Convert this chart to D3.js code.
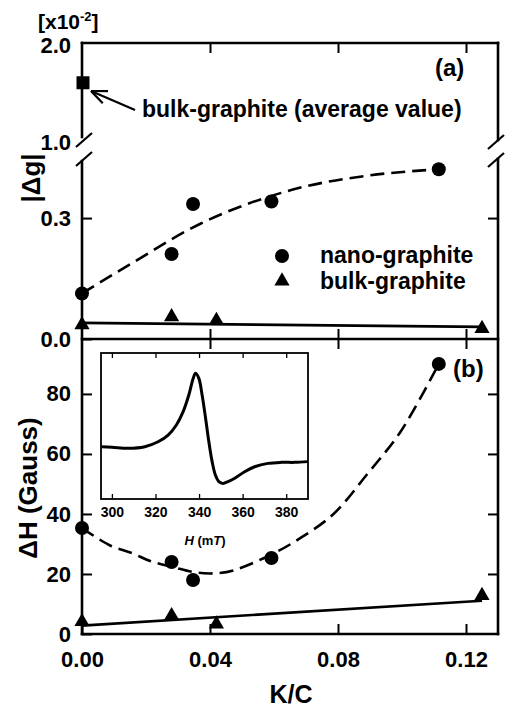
<!DOCTYPE html>
<html>
<head>
<meta charset="utf-8">
<script src="https://cdn.jsdelivr.net/npm/d3@7"></script>
<style>
  html, body { margin: 0; padding: 0; background: #fff; }
  svg { display: block; }
  text { font-family: "Liberation Sans", Arial, Helvetica, sans-serif; font-weight: bold; fill: #000; }
</style>
</head>
<body>
<svg id="chart" width="508" height="710"></svg>
<script>
// ---------- data ----------
// panel (a): |Δg| (lower segment, x10^-2 units)
const nanoG_kc   = [0.0, 0.028, 0.0347, 0.0592, 0.1115];
const nanoG_val  = [0.113, 0.211, 0.335, 0.341, 0.421];
const bulkG_kc   = [0.0, 0.028, 0.042, 0.125];
const bulkG_val  = [0.035, 0.055, 0.046, 0.026];
const bulkAvg_kc = [0.0];
const bulkAvg_val = [1.59];           // upper segment
const fitG_kc    = [0.0, 0.016, 0.037, 0.058, 0.068, 0.089, 0.1115];
const fitG_val   = [0.113, 0.19, 0.286, 0.352, 0.375, 0.405, 0.421];
const lineG_kc   = [0.0, 0.125];
const lineG_val  = [0.040, 0.030];

// panel (b): ΔH (Gauss)
const nanoH_kc   = [0.0, 0.028, 0.0347, 0.0592, 0.1115];
const nanoH_val  = [35.3, 24.0, 18.0, 25.3, 90.0];
const bulkH_kc   = [0.0, 0.028, 0.042, 0.125];
const bulkH_val  = [4.1, 6.1, 3.3, 12.8];
const fitH_kc    = [0.0, 0.0088, 0.016, 0.0213, 0.0285, 0.035, 0.041, 0.0473, 0.0592, 0.0683, 0.0786, 0.0893, 0.0996, 0.1115];
const fitH_val   = [35.3, 29.5, 26.8, 24.3, 22.3, 20.6, 20.2, 21.2, 26.5, 32.0, 40.0, 53.5, 67.5, 90.0];
const lineH_kc   = [0.0, 0.125];
const lineH_val  = [2.8, 11.1];

// inset: EPR derivative spectrum (arb. units)
const inset_H   = [295.2, 300, 307.5, 315.1, 321.2, 325.8, 329.6, 332.7, 335.3, 337.3, 338.4, 339.9, 341.4, 343.0, 344.5, 346.0, 347.5, 349.1, 351.0, 353.3, 356.4, 360.9, 365.5, 371.6, 377.7, 383.8, 389.9];
const inset_sig = [35.8, 35.5, 34.7, 35.8, 39.2, 43.8, 50.7, 59.8, 71.2, 82.6, 86.1, 82.6, 71.2, 55.3, 39.2, 25.6, 16.4, 11.9, 10.7, 11.9, 14.2, 18.7, 22.1, 24.4, 25.1, 25.1, 25.6];

// ticks
const xTicks      = [0.00, 0.04, 0.08, 0.12];
const xTickLabels = ["0.00", "0.04", "0.08", "0.12"];
const yaLowTicks  = [0.0, 0.3];
const yaHighTicks = [1.0, 2.0];
const ybTicks     = [0, 20, 40, 60, 80];
const insetTicks  = [300, 320, 340, 360, 380];

// ---------- layout ----------
const svg = d3.select("#chart");
const L = 82, R = 498, TOP = 43, MID = 339, BOT = 634;
const BRK1 = 140, BRK2 = 158;

const x = d3.scaleLinear().domain([0, 0.13]).range([L, R]);
const yaLow = d3.scaleLinear().domain([0, 0.45]).range([MID, 157.6]);
const yaHigh = d3.scaleLinear().domain([1.0, 2.0]).range([BRK1, TOP]);
const yb = d3.scaleLinear().domain([0, 98.3]).range([BOT, MID]);

const lw = 2.6;
const g = svg.append("g");

function styleAxis(sel, size) {
  sel.select(".domain").remove();
  sel.selectAll(".tick line").attr("stroke", "#000").attr("stroke-width", 2);
  sel.selectAll(".tick text").style("font-size", size + "px")
     .style("font-family", '"Liberation Sans", Arial, sans-serif').style("font-weight", "bold");
}

// ---------- frames ----------
const frame = g.append("g").attr("stroke", "#000").attr("stroke-width", lw).attr("fill", "none").attr("stroke-linecap", "square");
frame.append("line").attr("x1", L).attr("x2", R).attr("y1", TOP).attr("y2", TOP);
frame.append("line").attr("x1", L).attr("x2", R).attr("y1", MID).attr("y2", MID);
frame.append("line").attr("x1", L).attr("x2", L).attr("y1", TOP).attr("y2", BRK1 - 3);
frame.append("line").attr("x1", L).attr("x2", L).attr("y1", BRK2 + 3).attr("y2", BOT);
frame.append("line").attr("x1", R).attr("x2", R).attr("y1", TOP).attr("y2", BRK1 - 0);
frame.append("line").attr("x1", R).attr("x2", R).attr("y1", BRK2 + 1).attr("y2", BOT);
frame.append("line").attr("x1", L).attr("x2", R).attr("y1", BOT).attr("y2", BOT);
// break marks
[[L + 2, BRK1], [L + 2, BRK2 + 1], [R - 2, BRK1 + 2], [R - 2, BRK2 + 2]].forEach(([cx, cy]) => {
  frame.append("line").attr("x1", cx - 8).attr("y1", cy + 7).attr("x2", cx + 8).attr("y2", cy - 7)
    .attr("stroke-width", 2.2).attr("stroke-linecap", "butt");
});

// ---------- axes ----------
g.append("g").attr("transform", `translate(0,${BOT})`)
  .call(d3.axisBottom(x).tickValues(xTicks).tickFormat((d, i) => xTickLabels[i]).tickSizeInner(-10).tickSizeOuter(0).tickPadding(17))
  .call(s => styleAxis(s, 22));
g.append("g").attr("transform", `translate(0,${MID})`)
  .call(d3.axisBottom(x).tickValues(xTicks.slice(1)).tickFormat("").tickSizeInner(-10).tickSizeOuter(0))
  .call(s => styleAxis(s, 22));
g.append("g").attr("transform", `translate(0,${MID})`)
  .call(d3.axisBottom(x).tickValues(xTicks.slice(1)).tickFormat("").tickSizeInner(10).tickSizeOuter(0))
  .call(s => styleAxis(s, 22));
g.append("g").attr("transform", `translate(0,${TOP})`)
  .call(d3.axisTop(x).tickValues(xTicks.slice(1)).tickFormat("").tickSizeInner(-10).tickSizeOuter(0))
  .call(s => styleAxis(s, 22));

// panel a y
g.append("g").attr("transform", `translate(${L},0)`)
  .call(d3.axisLeft(yaLow).tickValues(yaLowTicks).tickFormat(d3.format(".1f")).tickSizeInner(-10).tickSizeOuter(0).tickPadding(11))
  .call(s => styleAxis(s, 22));
g.append("g").attr("transform", `translate(${L},0)`)
  .call(d3.axisLeft(yaHigh).tickValues(yaHighTicks).tickFormat(d3.format(".1f")).tickSizeInner(0).tickSizeOuter(0).tickPadding(11))
  .call(s => styleAxis(s, 22))
  .call(s => s.selectAll(".tick text").attr("dy", "0.42em"));
g.append("g").attr("transform", `translate(${R},0)`)
  .call(d3.axisRight(yaLow).tickValues([0.3]).tickFormat("").tickSizeInner(-10).tickSizeOuter(0))
  .call(s => styleAxis(s, 22));

// panel b y
g.append("g").attr("transform", `translate(${L},0)`)
  .call(d3.axisLeft(yb).tickValues(ybTicks).tickFormat(d3.format("d")).tickSizeInner(-10).tickSizeOuter(0).tickPadding(11))
  .call(s => styleAxis(s, 22));
g.append("g").attr("transform", `translate(${R},0)`)
  .call(d3.axisRight(yb).tickValues(ybTicks.slice(1)).tickFormat("").tickSizeInner(-10).tickSizeOuter(0))
  .call(s => styleAxis(s, 22));

// ---------- inset ----------
const IL = 101, IR = 308, IT = 353, IB = 499;
const xi = d3.scaleLinear().domain([295, 390]).range([IL, IR]);
const yi = d3.scaleLinear().domain([0, 100]).range([IB, IT]);
g.append("rect").attr("x", IL).attr("y", IT).attr("width", IR - IL).attr("height", IB - IT)
  .attr("fill", "#fff").attr("stroke", "#000").attr("stroke-width", 1.8);
g.append("g").attr("transform", `translate(0,${IB})`)
  .call(d3.axisBottom(xi).tickValues(insetTicks).tickSizeInner(-5).tickSizeOuter(0).tickPadding(8))
  .call(s => styleAxis(s, 14))
  .call(s => s.selectAll(".tick line").attr("stroke-width", 1.3));
g.append("g").attr("transform", `translate(0,${IT})`)
  .call(d3.axisTop(xi).tickValues(insetTicks).tickFormat("").tickSizeInner(-5).tickSizeOuter(0))
  .call(s => styleAxis(s, 14))
  .call(s => s.selectAll(".tick line").attr("stroke-width", 1.3));
const insetLine = d3.line().x((d, i) => xi(inset_H[i])).y((d, i) => yi(inset_sig[i])).curve(d3.curveCatmullRom.alpha(0.5));
g.append("path").datum(inset_H).attr("d", insetLine).attr("fill", "none").attr("stroke", "#000")
  .attr("stroke-width", 3).attr("stroke-linejoin", "round");
const hLab = g.append("text").attr("x", 205).attr("y", 545).attr("text-anchor", "middle").style("font-size", "13px");
hLab.append("tspan").style("font-style", "italic").text("H");
hLab.append("tspan").text(" (m");
hLab.append("tspan").style("font-style", "italic").text("T");
hLab.append("tspan").text(")");

// ---------- fit lines ----------
g.append("path")
  .attr("d", d3.line().curve(d3.curveMonotoneX)(fitG_kc.map((k, i) => [x(k), yaLow(fitG_val[i])])))
  .attr("fill", "none").attr("stroke", "#000").attr("stroke-width", 2.6).attr("stroke-dasharray", "14,7");
g.append("path")
  .attr("d", d3.line()(lineG_kc.map((k, i) => [x(k), yaLow(lineG_val[i])])))
  .attr("fill", "none").attr("stroke", "#000").attr("stroke-width", 2.6);
g.append("path")
  .attr("d", d3.line().curve(d3.curveCatmullRom.alpha(0.5))(fitH_kc.map((k, i) => [x(k), yb(fitH_val[i])])))
  .attr("fill", "none").attr("stroke", "#000").attr("stroke-width", 2.6).attr("stroke-dasharray", "14,7");
g.append("path")
  .attr("d", d3.line()(lineH_kc.map((k, i) => [x(k), yb(lineH_val[i])])))
  .attr("fill", "none").attr("stroke", "#000").attr("stroke-width", 2.6);

// ---------- markers ----------
const tri = d3.symbol().type(d3.symbolTriangle).size(100);
const sq = d3.symbol().type(d3.symbolSquare).size(169);
function circles(kc, val, ys) {
  g.append("g").selectAll("circle").data(kc).join("circle")
    .attr("cx", d => x(d)).attr("cy", (d, i) => ys(val[i])).attr("r", 7).attr("fill", "#000");
}
function triangles(kc, val, ys) {
  g.append("g").selectAll("path").data(kc).join("path")
    .attr("d", tri).attr("transform", (d, i) => `translate(${x(d)},${ys(val[i])})`).attr("fill", "#000");
}
circles(nanoG_kc, nanoG_val, yaLow);
triangles(bulkG_kc, bulkG_val, yaLow);
circles(nanoH_kc, nanoH_val, yb);
triangles(bulkH_kc, bulkH_val, yb);
g.append("g").selectAll("path").data(bulkAvg_kc).join("path")
  .attr("d", sq).attr("transform", (d, i) => `translate(${x(d) + 1},${yaHigh(bulkAvg_val[i])})`).attr("fill", "#000");

// arrow
const arrow = g.append("g").attr("stroke", "#000").attr("stroke-width", 2.2).attr("fill", "none");
const tipX = 91, tipY = 91, endX = 135, endY = 110;
arrow.append("line").attr("x1", tipX).attr("y1", tipY).attr("x2", endX).attr("y2", endY);
const ang = Math.atan2(endY - tipY, endX - tipX);
[-0.4, 0.4].forEach(a => {
  arrow.append("line").attr("x1", tipX).attr("y1", tipY)
    .attr("x2", tipX + 17 * Math.cos(ang + a)).attr("y2", tipY + 17 * Math.sin(ang + a));
});

// ---------- texts ----------
g.append("text").attr("x", 142).attr("y", 117).style("font-size", "23px").text("bulk-graphite (average value)");
g.append("text").attr("x", 435).attr("y", 76).style("font-size", "24px").text("(a)");
g.append("text").attr("x", 453).attr("y", 377).style("font-size", "24px").text("(b)");

// legend
g.append("circle").attr("cx", 282).attr("cy", 256).attr("r", 7).attr("fill", "#000");
g.append("path").attr("d", tri).attr("transform", "translate(282,281)").attr("fill", "#000");
g.append("text").attr("x", 320).attr("y", 263).style("font-size", "23px").text("nano-graphite");
g.append("text").attr("x", 320).attr("y", 289).style("font-size", "23px").text("bulk-graphite");

// multiplier
const mult = g.append("text").attr("x", 38).attr("y", 29).style("font-size", "21px");
mult.append("tspan").text("[x10");
mult.append("tspan").attr("dy", -8).style("font-size", "13px").text("-2");
mult.append("tspan").attr("dy", 8).text("]");

// axis titles
g.append("text").attr("transform", "translate(40,178) rotate(-90)").attr("text-anchor", "middle")
  .style("font-size", "26px").text("|Δg|");
g.append("text").attr("transform", "translate(37,488) rotate(-90)").attr("text-anchor", "middle")
  .style("font-size", "26px").text("ΔH (Gauss)");
g.append("text").attr("x", 291).attr("y", 703).attr("text-anchor", "middle")
  .style("font-size", "25px").text("K/C");
</script>
</body>
</html>
